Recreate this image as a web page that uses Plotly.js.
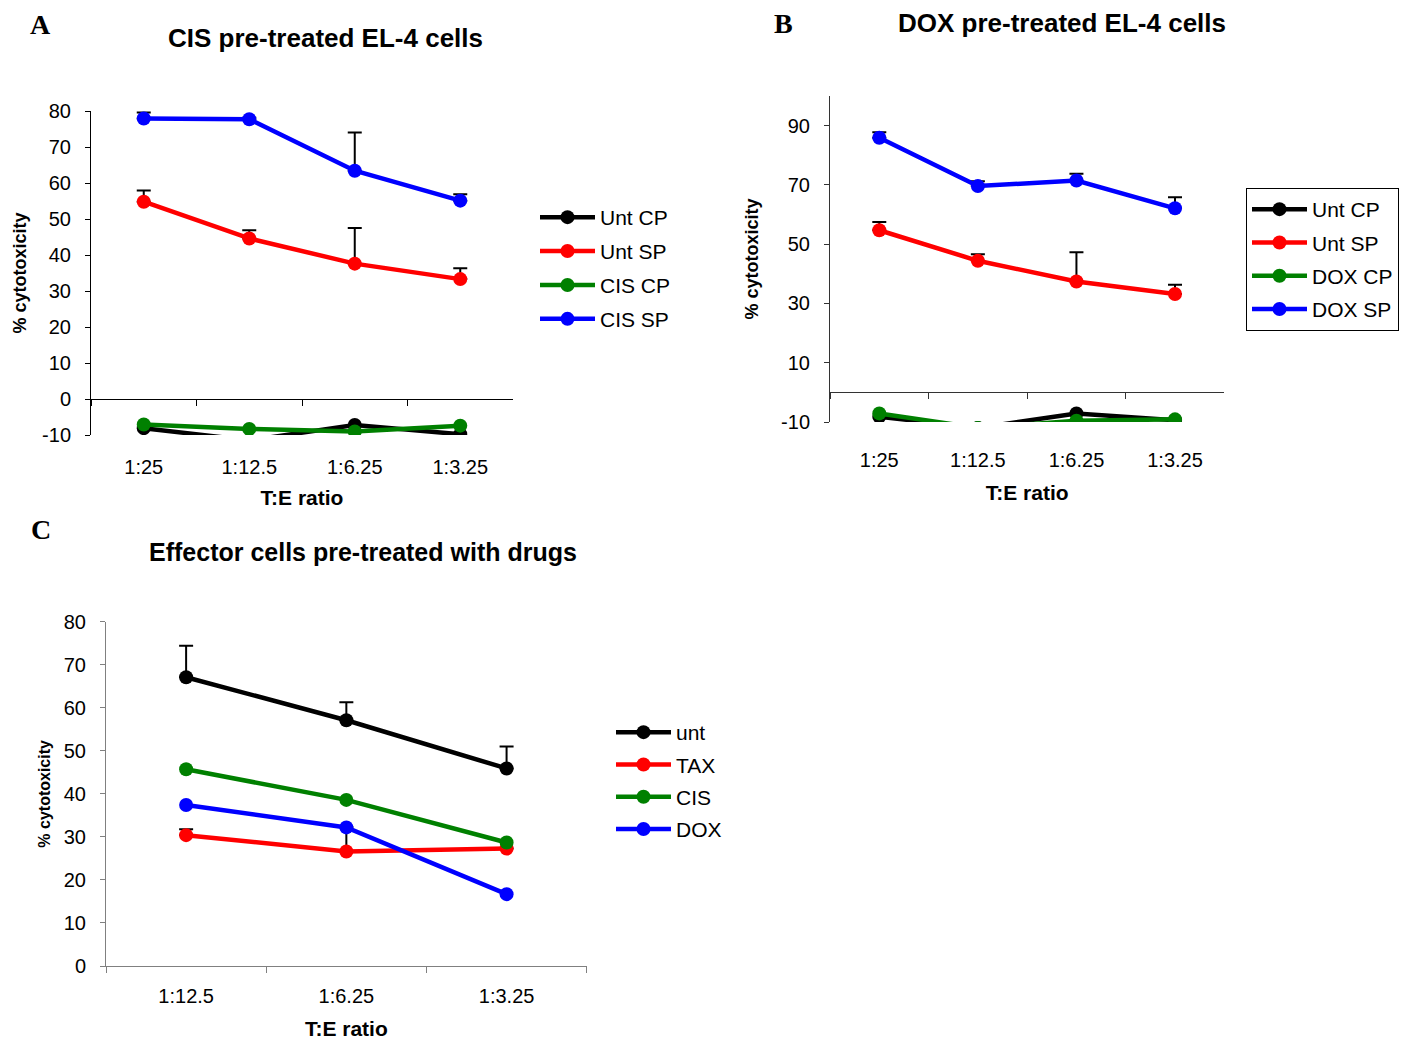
<!DOCTYPE html>
<html><head><meta charset="utf-8">
<script src="https://cdn.plot.ly/plotly-3.0.1.min.js"></script>
<style>html,body{margin:0;padding:0;background:#fff}#chart{width:1411px;height:1040px}</style>
</head><body><div id="chart"></div>
<script>
// ---- data ----
const ratiosAB = ['1:25', '1:12.5', '1:6.25', '1:3.25'];
const ratiosC = ['1:12.5', '1:6.25', '1:3.25'];

const namesA = ['Unt CP', 'Unt SP', 'CIS CP', 'CIS SP'];
const a_untCP = [-8.1, -11.5, -7.2, -9.8];
const a_untSP = [54.8, 44.6, 37.6, 33.3];
const a_untSP_err = [3.1, 2.3, 9.9, 3.0];
const a_cisCP = [-7.1, -8.3, -9.0, -7.4];
const a_cisSP = [77.9, 77.7, 63.4, 55.1];
const a_cisSP_err = [1.7, 0.4, 10.6, 1.8];

const namesB = ['Unt CP', 'Unt SP', 'DOX CP', 'DOX SP'];
const b_untCP = [-8.2, -12.0, -7.1, -9.4];
const b_untSP = [54.7, 44.4, 37.4, 33.2];
const b_untSP_err = [2.8, 2.2, 9.9, 3.1];
const b_doxCP = [-7.1, -12.0, -9.6, -9.1];
const b_doxSP = [85.9, 69.6, 71.5, 62.1];
const b_doxSP_err = [1.9, 1.6, 2.3, 3.7];

const namesC = ['unt', 'TAX', 'CIS', 'DOX'];
const c_unt = [67.1, 57.1, 45.9];
const c_unt_err = [7.3, 4.2, 5.1];
const c_tax = [30.4, 26.6, 27.3];
const c_tax_err = [1.4, 5.7, 0];
const c_cis = [45.7, 38.6, 28.7];
const c_dox = [37.4, 32.2, 16.7];

// tick values / labels
const yTicksA = [-10, 0, 10, 20, 30, 40, 50, 60, 70, 80];
const yTicksB = [-10, 10, 30, 50, 70, 90];
const yTicksC = [0, 10, 20, 30, 40, 50, 60, 70, 80];

const titles = ['CIS pre-treated EL-4 cells', 'DOX pre-treated EL-4 cells', 'Effector cells pre-treated with drugs'];
const yTitle = '% cytotoxicity';
const xTitle = 'T:E ratio';

// ---- layout helpers ----
const W = 1411, H = 1040;
const fx = p => p / W;
const fy = p => 1 - p / H;
const SANS = 'Liberation Sans, Arial, sans-serif';
const SERIF = 'Liberation Serif, Times New Roman, serif';
const COL = {black: '#000000', red: '#ff0000', green: '#008000', blue: '#0000ff'};

function tr(x, y, name, color, xa, ya, leg, err) {
  const t = {
    x: x, y: y, name: name, type: 'scatter', mode: 'lines+markers',
    xaxis: xa, yaxis: ya, legend: leg, legendgroup: leg + name,
    line: {color: color, width: 4.5},
    marker: {color: color, size: 14},
    cliponaxis: true
  };
  if (err) {
    t.error_y = {type: 'data', symmetric: false, array: err, arrayminus: err.map(() => 0),
                 color: '#000', thickness: 2, width: 7};
  }
  return t;
}

const data = [
  tr(ratiosAB, a_untCP, namesA[0], COL.black, 'x', 'y', 'legend'),
  tr(ratiosAB, a_untSP, namesA[1], COL.red, 'x', 'y', 'legend', a_untSP_err),
  tr(ratiosAB, a_cisCP, namesA[2], COL.green, 'x', 'y', 'legend'),
  tr(ratiosAB, a_cisSP, namesA[3], COL.blue, 'x', 'y', 'legend', a_cisSP_err),
  tr(ratiosAB, b_untCP, namesB[0], COL.black, 'x2', 'y2', 'legend2'),
  tr(ratiosAB, b_untSP, namesB[1], COL.red, 'x2', 'y2', 'legend2', b_untSP_err),
  tr(ratiosAB, b_doxCP, namesB[2], COL.green, 'x2', 'y2', 'legend2'),
  tr(ratiosAB, b_doxSP, namesB[3], COL.blue, 'x2', 'y2', 'legend2', b_doxSP_err),
  tr(ratiosC, c_unt, namesC[0], COL.black, 'x3', 'y3', 'legend3', c_unt_err),
  tr(ratiosC, c_tax, namesC[1], COL.red, 'x3', 'y3', 'legend3', c_tax_err),
  tr(ratiosC, c_cis, namesC[2], COL.green, 'x3', 'y3', 'legend3'),
  tr(ratiosC, c_dox, namesC[3], COL.blue, 'x3', 'y3', 'legend3')
];

function zeroPos(dom, rng) {
  return dom[0] + (0 - rng[0]) / (rng[1] - rng[0]) * (dom[1] - dom[0]);
}

const tickFont = {family: SANS, size: 20, color: '#000'};
const axTitleFont = {family: SANS, size: 21, color: '#000', weight: 'bold'};

const yDomA = [fy(435), fy(111)], yRngA = [-10, 80];
const yDomB = [fy(422), fy(96)], yRngB = [-10, 100];
const yDomC = [fy(966), fy(621.7)], yRngC = [0, 80];

function xAxis(dom, n, lineColor, extra) {
  return Object.assign({
    domain: dom, type: 'category', range: [-0.5, n - 0.5],
    tickson: 'boundaries', ticks: 'outside', ticklen: 6, tickwidth: 1, tickcolor: lineColor,
    showline: true, linecolor: lineColor, linewidth: 1,
    showgrid: false, zeroline: false, automargin: false,
    tickfont: tickFont, fixedrange: true
  }, extra);
}
function yAxis(dom, rng, ticks, lineColor, extra) {
  return Object.assign({
    domain: dom, range: rng, ticks: 'outside', ticklen: 5, tickwidth: 1, tickcolor: lineColor,
    tickmode: 'array', tickvals: ticks, ticktext: ticks.map(v => String(v)),
    showline: true, linecolor: lineColor, linewidth: 1,
    showgrid: false, zeroline: false, automargin: false,
    tickfont: tickFont, ticklabelstandoff: 10, fixedrange: true
  }, extra);
}

const legendBase = {
  orientation: 'v', xanchor: 'left', yanchor: 'top', bgcolor: 'rgba(0,0,0,0)',
  font: {family: SANS, size: 21, color: '#000'}, traceorder: 'grouped', tracegroupgap: 3.6,
  itemwidth: 55, itemclick: false, itemdoubleclick: false
};

function ann(text, px, py, font) {
  return {text: text, x: fx(px), y: fy(py), xref: 'paper', yref: 'paper', showarrow: false,
          xanchor: 'center', yanchor: 'middle', font: font};
}

const layout = {
  width: W, height: H, margin: {l: 0, r: 0, t: 0, b: 0},
  paper_bgcolor: '#fff', plot_bgcolor: '#fff', showlegend: true,
  font: {family: SANS, color: '#000'},
  xaxis: xAxis([fx(91), fx(513)], 4, '#000', {
    anchor: 'free', position: zeroPos(yDomA, yRngA), ticklabelstandoff: 50,
    title: {text: xTitle, font: axTitleFont, standoff: 13}
  }),
  yaxis: yAxis(yDomA, yRngA, yTicksA, '#000', {
    anchor: 'x',
    title: {text: yTitle, font: {family: SANS, size: 18, color: '#000', weight: 'bold'}, standoff: 10}
  }),
  xaxis2: xAxis([fx(830), fx(1224.3)], 4, '#333', {
    anchor: 'free', position: zeroPos(yDomB, yRngB), ticklabelstandoff: 50,
    title: {text: xTitle, font: axTitleFont, standoff: 14}
  }),
  yaxis2: yAxis(yDomB, yRngB, yTicksB, '#333', {
    anchor: 'x2',
    title: {text: yTitle, font: {family: SANS, size: 18, color: '#000', weight: 'bold'}, standoff: 17}
  }),
  xaxis3: xAxis([fx(106), fx(586.7)], 3, '#808080', {
    anchor: 'y3', ticklabelstandoff: 12,
    title: {text: xTitle, font: axTitleFont, standoff: 16}
  }),
  yaxis3: yAxis(yDomC, yRngC, yTicksC, '#808080', {
    anchor: 'x3',
    title: {text: yTitle, font: {family: SANS, size: 16, color: '#000', weight: 'bold'}, standoff: 9}
  }),
  legend: Object.assign({}, legendBase, {x: fx(535), y: fy(197), borderwidth: 0}),
  legend2: Object.assign({}, legendBase, {x: fx(1246), y: fy(188), borderwidth: 1, bordercolor: '#000',
                                          tracegroupgap: 3}),
  legend3: Object.assign({}, legendBase, {x: fx(611), y: fy(712), borderwidth: 0, tracegroupgap: 2}),
  annotations: [
    ann('<b>A</b>', 40, 24, {family: SERIF, size: 28, color: '#000'}),
    ann('<b>B</b>', 783, 23, {family: SERIF, size: 28, color: '#000'}),
    ann('<b>C</b>', 41, 529, {family: SERIF, size: 28, color: '#000'}),
    ann('<b>' + titles[0] + '</b>', 325, 38, {family: SANS, size: 26, color: '#000'}),
    ann('<b>' + titles[1] + '</b>', 1062, 23, {family: SANS, size: 26, color: '#000'}),
    ann('<b>' + titles[2] + '</b>', 363, 552, {family: SANS, size: 25, color: '#000'})
  ]
};

Plotly.newPlot('chart', data, layout, {staticPlot: true, displayModeBar: false});
</script>
</body></html>
